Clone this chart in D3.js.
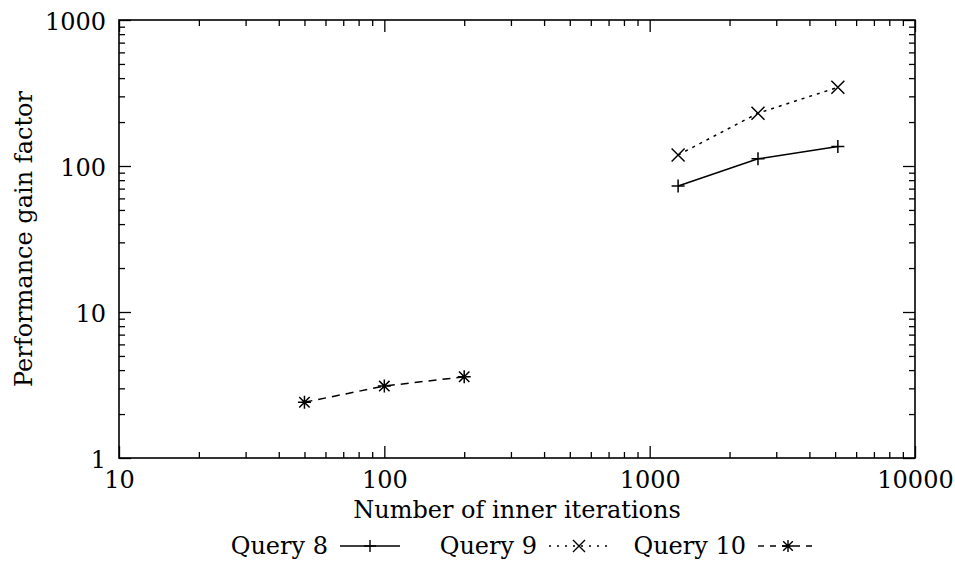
<!DOCTYPE html>
<html>
<head>
<meta charset="utf-8">
<script src="https://cdn.jsdelivr.net/npm/d3@7"></script>
<style>
  html, body { margin: 0; padding: 0; background: #fff; }
  svg { display: block; }
  text { font-family: "DejaVu Serif", serif; fill: #000; }
</style>
</head>
<body>
<svg id="chart" width="955" height="563"></svg>
<script>
// ---- data ----
const seriesNames = ["Query 8", "Query 9", "Query 10"];
const q8x = [1280, 2560, 5120];
const q8y = [73, 112, 136];
const q9x = [1280, 2560, 5120];
const q9y = [119, 230, 346];
const q10x = [50, 100, 200];
const q10y = [2.41, 3.11, 3.6];
const xTickLabels = [10, 100, 1000, 10000];
const yTickLabels = [1, 10, 100, 1000];
const xTitle = "Number of inner iterations";
const yTitle = "Performance gain factor";

const series = [
  { name: seriesNames[0], xs: q8x, ys: q8y, dash: null, legDash: null, marker: "plus" },
  { name: seriesNames[1], xs: q9x, ys: q9y, dash: "3,5", legDash: "2,6", marker: "cross" },
  { name: seriesNames[2], xs: q10x, ys: q10y, dash: "8,6", legDash: "6,6", marker: "star" }
];

const svg = d3.select("#chart");
const L = 119, R = 915, T = 20, B = 458;
const FS = 24;

const x = d3.scaleLog().domain([10, 10000]).range([L, R]);
const y = d3.scaleLog().domain([1, 1000]).range([B, T]);

const isMajor = v => Math.abs(Math.log10(v) - Math.round(Math.log10(v))) < 1e-9;
const xMinor = x.ticks().filter(v => !isMajor(v));
const yMinor = y.ticks().filter(v => !isMajor(v));

function styleAxis(g) {
  g.select(".domain").remove();
  g.selectAll(".tick line").attr("stroke", "#000").attr("stroke-width", 1.3);
}

// minor ticks, all four sides, inward
svg.append("g").attr("transform", `translate(0,${B})`)
  .call(d3.axisBottom(x).tickValues(xMinor).tickSize(-6).tickFormat("")).call(styleAxis);
svg.append("g").attr("transform", `translate(0,${T})`)
  .call(d3.axisTop(x).tickValues(xMinor).tickSize(-6).tickFormat("")).call(styleAxis);
svg.append("g").attr("transform", `translate(${L},0)`)
  .call(d3.axisLeft(y).tickValues(yMinor).tickSize(-6).tickFormat("")).call(styleAxis);
svg.append("g").attr("transform", `translate(${R},0)`)
  .call(d3.axisRight(y).tickValues(yMinor).tickSize(-6).tickFormat("")).call(styleAxis);

// major ticks with labels
const gx = svg.append("g").attr("transform", `translate(0,${B})`)
  .call(d3.axisBottom(x).tickValues(xTickLabels).tickSize(-12).tickFormat(d3.format("d"))).call(styleAxis);
gx.selectAll(".tick text").attr("y", 30).attr("dy", 0)
  .style("font-size", FS + "px").style("font-family", "DejaVu Serif").attr("fill", "#000");
svg.append("g").attr("transform", `translate(0,${T})`)
  .call(d3.axisTop(x).tickValues(xTickLabels).tickSize(-12).tickFormat("")).call(styleAxis);
const gy = svg.append("g").attr("transform", `translate(${L},0)`)
  .call(d3.axisLeft(y).tickValues(yTickLabels).tickSize(-12).tickFormat(d3.format("d"))).call(styleAxis);
gy.selectAll(".tick text").attr("x", -13).attr("dy", "0.38em")
  .style("font-size", FS + "px").style("font-family", "DejaVu Serif").attr("fill", "#000");
svg.append("g").attr("transform", `translate(${R},0)`)
  .call(d3.axisRight(y).tickValues(yTickLabels).tickSize(-12).tickFormat("")).call(styleAxis);

// frame
svg.append("rect").attr("x", L).attr("y", T).attr("width", R - L).attr("height", B - T)
  .attr("fill", "none").attr("stroke", "#000").attr("stroke-width", 1.6);

// markers
function markerPath(type, s) {
  const p = `M${-s},0H${s}M0,${-s}V${s}`;
  const c = `M${-s},${-s}L${s},${s}M${-s},${s}L${s},${-s}`;
  if (type === "plus") return p;
  if (type === "cross") return c;
  const d = s * 0.8;
  return p + `M${-d},${-d}L${d},${d}M${-d},${d}L${d},${-d}`;
}

const line = d3.line().x(d => x(d[0])).y(d => y(d[1]));

series.forEach(s => {
  const pts = s.xs.map((v, i) => [v, s.ys[i]]);
  svg.append("path").datum(pts).attr("d", line)
    .attr("fill", "none").attr("stroke", "#000").attr("stroke-width", 1.5)
    .attr("stroke-dasharray", s.dash);
  svg.selectAll(null).data(pts).enter().append("path")
    .attr("transform", d => `translate(${x(d[0])},${y(d[1])})`)
    .attr("d", markerPath(s.marker, 6.5))
    .attr("fill", "none").attr("stroke", "#000").attr("stroke-width", 1.5);
});

// axis titles
svg.append("text").attr("x", (L + R) / 2).attr("y", 518).attr("text-anchor", "middle")
  .style("font-size", FS + "px").text(xTitle);
svg.append("text").attr("transform", `translate(32,${(T + B) / 2}) rotate(-90)`)
  .attr("text-anchor", "middle").style("font-size", FS + "px").text(yTitle);

// legend
series.forEach((s, i) => {
  const ex = 328 + i * 209;
  const ly = 554;
  svg.append("text").attr("x", ex).attr("y", ly).attr("text-anchor", "end")
    .style("font-size", FS + "px").text(s.name);
  svg.append("line").attr("x1", ex + 12).attr("x2", ex + 72).attr("y1", ly - 8).attr("y2", ly - 8)
    .attr("stroke", "#000").attr("stroke-width", 1.4).attr("stroke-dasharray", s.legDash);
  svg.append("path").attr("transform", `translate(${ex + 42},${ly - 8})`)
    .attr("d", markerPath(s.marker, 6))
    .attr("fill", "none").attr("stroke", "#000").attr("stroke-width", 1.4);
});
</script>
</body>
</html>
